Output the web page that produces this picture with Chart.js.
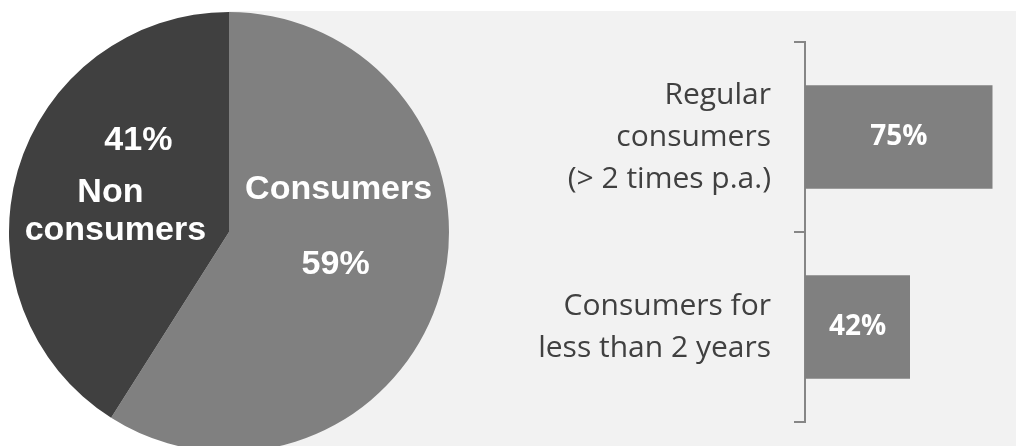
<!DOCTYPE html>
<html>
<head>
<meta charset="utf-8">
<script src="https://cdn.jsdelivr.net/npm/chart.js@4"></script>
<style>
    html, body { margin: 0; padding: 0; background: #ffffff; overflow: hidden; }
    body { width: 1016px; height: 446px; position: relative; }
    .panel-bg { position: absolute; left: 229px; top: 11px; right: 0; bottom: 0; background: #f2f2f2; }
    #pieChart { position: absolute; left: 9px; top: 12px; }
    #barChart { position: absolute; left: 460px; top: 11px; }
</style>
</head>
<body>
<div class="panel-bg"></div>
<canvas id="pieChart" width="440" height="440"></canvas>
<canvas id="barChart" width="556" height="435"></canvas>
<script>
// pie: share of consumers
const pieCategories = ['Consumers', 'Non consumers'];
const pieValues = [59, 41];
const pieColors = ['#808080', '#404040'];

// bar: consumer profile
const barCategories = [['Regular', 'consumers', '(> 2 times p.a.)'], ['Consumers for', 'less than 2 years']];
const barValues = [75, 42];
const barMax = 80;

// text lines drawn on each slice, offsets from the slice centre
const pieLabelLines = [
    [{ text: 'Consumers', dx: 4, dy: -73 }, { text: '%', dx: 1, dy: 2 }],
    [{ text: '%', dx: 15, dy: -61 }, { text: 'Non', dx: -13, dy: -9 }, { text: 'consumers', dx: -8, dy: 29 }]
];

const pieLabelPlugin = {
    id: 'pieLabels',
    afterDatasetsDraw: (chart) => {
        const ctx = chart.ctx;
        const meta = chart.getDatasetMeta(0);
        ctx.save();
        ctx.fillStyle = '#ffffff';
        ctx.font = 'bold 34px "Liberation Sans", Arial, sans-serif';
        ctx.textAlign = 'center';
        ctx.textBaseline = 'middle';
        meta.data.forEach((arc, i) => {
            const c = arc.getCenterPoint();
            pieLabelLines[i].forEach(l => {
                const txt = l.text === '%' ? pieValues[i] + '%' : l.text;
                ctx.fillText(txt, c.x + l.dx, c.y + l.dy);
            });
        });
        ctx.restore();
    }
};

const barLabelPlugin = {
    id: 'barLabels',
    afterDatasetsDraw: (chart) => {
        const ctx = chart.ctx;
        const meta = chart.getDatasetMeta(0);
        ctx.save();
        ctx.fillStyle = '#ffffff';
        ctx.font = 'bold 28px "Open Sans", sans-serif';
        ctx.textAlign = 'center';
        ctx.textBaseline = 'middle';
        meta.data.forEach((bar, i) => {
            ctx.fillText(barValues[i] + '%', (bar.x + bar.base) / 2, bar.y);
        });
        ctx.restore();
    }
};

new Chart(document.getElementById('pieChart').getContext('2d'), {
    type: 'pie',
    data: {
        labels: pieCategories,
        datasets: [{
            data: pieValues,
            backgroundColor: pieColors,
            borderWidth: 0
        }]
    },
    options: {
        responsive: false,
        animation: false,
        layout: { padding: 0 },
        plugins: { legend: { display: false }, tooltip: { enabled: false } }
    },
    plugins: [pieLabelPlugin]
});

new Chart(document.getElementById('barChart').getContext('2d'), {
    type: 'bar',
    data: {
        labels: barCategories,
        datasets: [{
            data: barValues,
            backgroundColor: '#808080',
            borderWidth: 0,
            barPercentage: 0.544,
            categoryPercentage: 1
        }]
    },
    options: {
        indexAxis: 'y',
        responsive: false,
        animation: false,
        layout: { padding: { top: 31, bottom: 24, left: 0, right: 11 } },
        scales: {
            x: { display: false, min: 0, max: barMax },
            y: {
                afterFit: (scale) => {
                    scale.width = 345;
                    // labels are taller than the band edges, don't let them shrink the plot
                    scale.paddingTop = 0;
                    scale.paddingBottom = 0;
                },
                border: { color: '#868686', width: 2 },
                grid: { offset: true, drawOnChartArea: false, drawTicks: true, tickLength: 11, color: '#868686', lineWidth: 2 },
                ticks: {
                    padding: 23,
                    color: '#404040',
                    font: { family: '"Open Sans", sans-serif', size: 30, lineHeight: 1.4 }
                }
            }
        },
        plugins: { legend: { display: false }, tooltip: { enabled: false } }
    },
    plugins: [barLabelPlugin]
});
</script>
</body>
</html>
